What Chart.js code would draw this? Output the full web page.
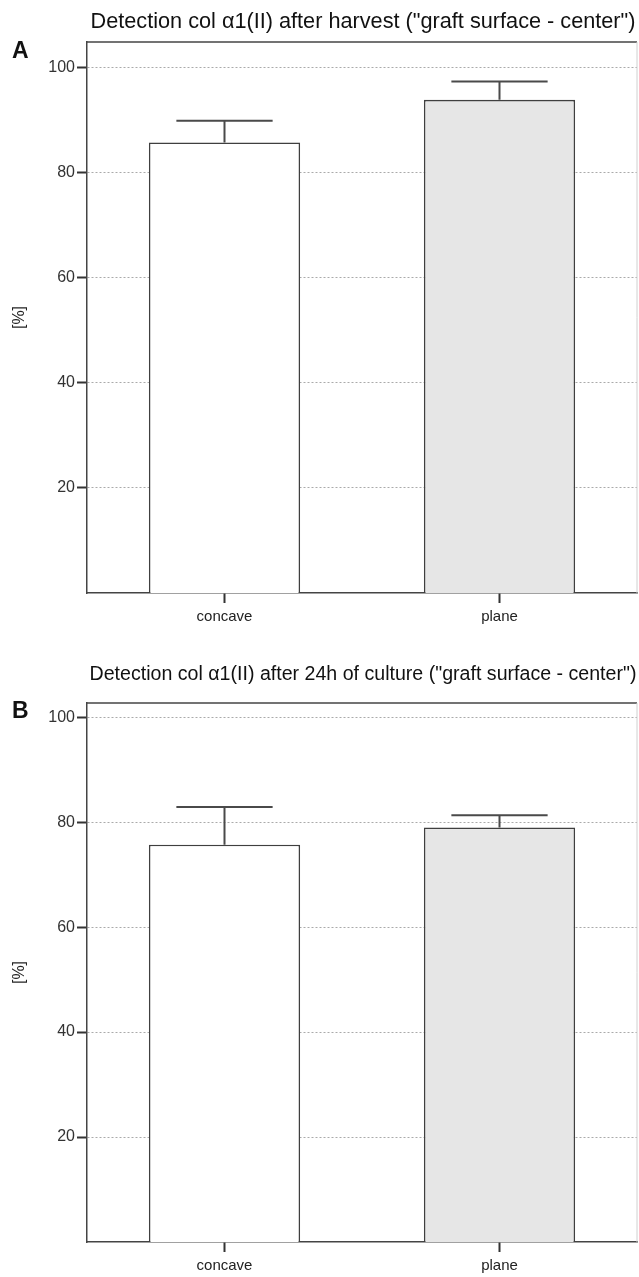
<!DOCTYPE html>
<html>
<head>
<meta charset="utf-8">
<script src="https://cdn.jsdelivr.net/npm/chart.js@4.4.1/dist/chart.umd.min.js"></script>
<style>
  html, body { margin: 0; padding: 0; background: #fff; }
  .panel { position: relative; width: 639px; }
  #panelA { height: 640px; }
  #panelB { height: 637px; }
</style>
</head>
<body>
<div class="panel" id="panelA"><canvas id="chartA"></canvas></div>
<div class="panel" id="panelB"><canvas id="chartB"></canvas></div>
<script>
// data
const categories = ['concave', 'plane'];
const yTickValues = [20, 40, 60, 80, 100];

const harvestMeans = [85.7, 93.8];
const harvestErrors = [4.1, 3.5];

const cultureMeans = [75.7, 79.0];
const cultureErrors = [7.2, 2.3];

const barFills = ['#ffffff', '#e6e6e6'];

const FONT = "'Liberation Sans', Arial, sans-serif";

/**
 * Error bars (upper whisker only, like the original)
 */
const errorBarPlugin = {
    id: 'errorBars',
    afterDatasetsDraw(chart, args, opts) {
        const meta = chart.getDatasetMeta(0);
        const yScale = chart.scales.y;
        const xScale = chart.scales.x;
        const ctx = chart.ctx;
        const catWidth = xScale.width / categories.length;
        ctx.save();
        ctx.strokeStyle = '#4a4a4a';
        ctx.lineWidth = 2;
        meta.data.forEach((bar, i) => {
            const value = chart.data.datasets[0].data[i];
            const yTop = yScale.getPixelForValue(value + opts.errors[i]);
            const half = catWidth * 0.175;
            ctx.beginPath();
            ctx.moveTo(bar.x, bar.y);
            ctx.lineTo(bar.x, yTop);
            ctx.moveTo(bar.x - half, yTop);
            ctx.lineTo(bar.x + half, yTop);
            ctx.stroke();
        });
        ctx.restore();
    }
};

/**
 * Frame, panel letter and title
 */
const decorPlugin = {
    id: 'decor',
    afterDraw(chart, args, opts) {
        const ctx = chart.ctx;
        const area = chart.chartArea;
        ctx.save();
        // top border
        ctx.strokeStyle = '#444';
        ctx.lineWidth = 1.5;
        ctx.beginPath();
        ctx.moveTo(area.left, area.top);
        ctx.lineTo(area.right, area.top);
        ctx.stroke();
        // faint right border
        ctx.strokeStyle = '#d0d0d0';
        ctx.lineWidth = 1;
        ctx.beginPath();
        ctx.moveTo(area.right, area.top);
        ctx.lineTo(area.right, area.bottom);
        ctx.stroke();

        // title sized to span the plot width, as in the original
        ctx.fillStyle = '#111';
        ctx.textBaseline = 'middle';
        ctx.textAlign = 'center';
        ctx.font = '20px ' + FONT;
        const w = ctx.measureText(opts.title).width;
        const size = Math.min(22, 20 * (area.width - 4) / w);
        ctx.font = size.toFixed(1) + 'px ' + FONT;
        ctx.fillText(opts.title, (area.left + area.right) / 2 + 1, opts.titleY, area.width - 2);

        ctx.textAlign = 'left';
        ctx.font = 'bold 23px ' + FONT;
        ctx.fillText(opts.letter, 12, opts.letterY);
        ctx.restore();
    }
};

function buildChart(canvasId, means, errors, cfg) {
    return new Chart(document.getElementById(canvasId), {
        type: 'bar',
        data: {
            labels: categories,
            datasets: [{
                data: means,
                backgroundColor: barFills,
                borderColor: '#3f3f3f',
                borderWidth: 1.6,
                barPercentage: 0.55,
                categoryPercentage: 1.0
            }]
        },
        options: {
            responsive: true,
            maintainAspectRatio: false,
            animation: false,
            layout: {
                padding: { top: cfg.top, left: 0, right: 2, bottom: 0 }
            },
            plugins: {
                legend: { display: false },
                tooltip: { enabled: false },
                errorBars: { errors: errors },
                decor: { title: cfg.title, titleY: cfg.titleY, letter: cfg.letter, letterY: cfg.letterY }
            },
            scales: {
                x: {
                    afterFit: function(scale) { scale.height = cfg.xHeight; },
                    grid: {
                        offset: false,
                        drawOnChartArea: false,
                        drawTicks: true,
                        tickLength: 10,
                        tickColor: '#333',
                        tickWidth: 2
                    },
                    border: { color: '#444', width: 1.5 },
                    ticks: {
                        color: '#222',
                        font: { family: FONT, size: 15 },
                        padding: 5
                    }
                },
                y: {
                    min: 0,
                    max: cfg.max,
                    afterFit: function(scale) { scale.width = 87; },
                    afterBuildTicks: function(scale) {
                        scale.ticks = yTickValues.map(v => ({ value: v }));
                    },
                    grid: {
                        color: '#aaa',
                        lineWidth: 1,
                        tickLength: 10,
                        tickColor: '#333',
                        tickWidth: 2
                    },
                    border: { color: '#444', width: 1.5, dash: [2, 2] },
                    ticks: {
                        color: '#333',
                        font: { family: FONT, size: 16 },
                        padding: 2
                    },
                    title: {
                        display: true,
                        text: '[%]',
                        color: '#222',
                        font: { family: FONT, size: 16 },
                        padding: { top: 10, bottom: 0 }
                    }
                }
            }
        },
        plugins: [errorBarPlugin, decorPlugin]
    });
}

buildChart('chartA', harvestMeans, harvestErrors, {
    top: 42, xHeight: 47, max: 104.8, titleY: 22, letter: 'A', letterY: 52,
    title: 'Detection col \u03b11(II) after harvest ("graft surface - center")'
});

buildChart('chartB', cultureMeans, cultureErrors, {
    top: 63, xHeight: 35, max: 102.7, titleY: 35, letter: 'B', letterY: 72,
    title: 'Detection col \u03b11(II) after 24h of culture ("graft surface - center")'
});
</script>
</body>
</html>
